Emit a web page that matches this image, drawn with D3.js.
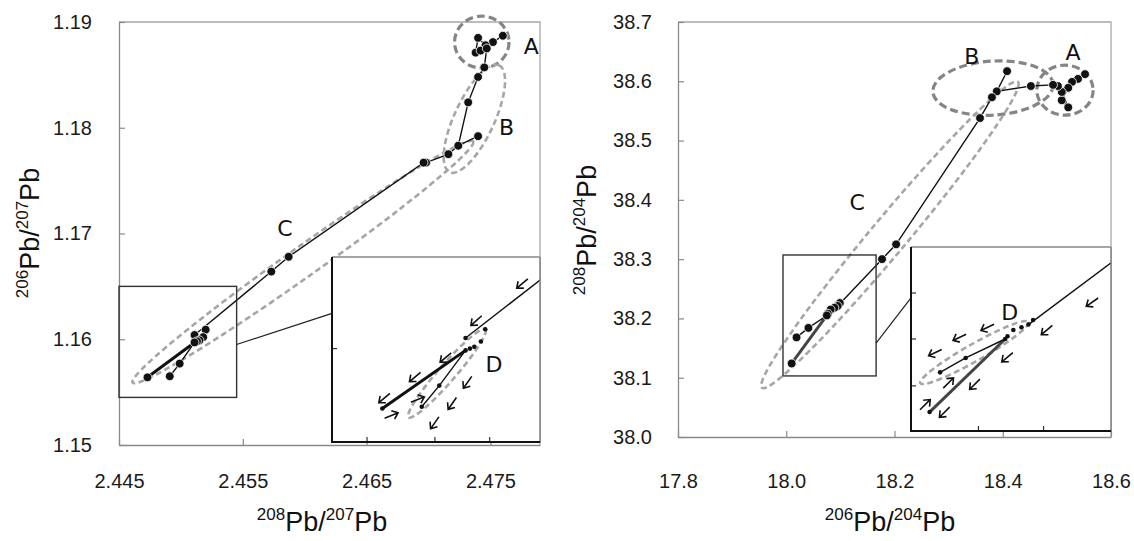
<!DOCTYPE html>
<html>
<head>
<meta charset="utf-8">
<script src="https://cdn.jsdelivr.net/npm/d3@7"></script>
<style>
  html, body { margin: 0; padding: 0; background: #fff; }
  svg { display: block; font-family: "Liberation Sans", Arial, sans-serif; }
</style>
</head>
<body>
<svg id="chart" width="1134" height="541"></svg>
<script>
// ---------- left panel: 206Pb/207Pb vs 208Pb/207Pb ----------
const leftXTicks = [2.445, 2.455, 2.465, 2.475];
const leftYTicks = [1.15, 1.16, 1.17, 1.18, 1.19];

// [208Pb/207Pb, 206Pb/207Pb]
const leftA = [[2.4760, 1.1887], [2.4752, 1.1881], [2.4746, 1.1878], [2.4740, 1.1885],
               [2.4738, 1.1871], [2.4742, 1.1873], [2.4747, 1.1875]];
const leftB = [[2.4745, 1.1857], [2.4740, 1.1848], [2.4732, 1.1824], [2.4724, 1.1783],
               [2.4716, 1.1775], [2.4698, 1.1767], [2.4696, 1.1767]];
const leftBSpur = [[2.4740, 1.1792], [2.4724, 1.1783]];
const leftC = [[2.4587, 1.1678], [2.4573, 1.1664]];
const leftD = [[2.4520, 1.1609], [2.4511, 1.1604], [2.4518, 1.1602], [2.4515, 1.1599],
               [2.4513, 1.1598], [2.4511, 1.1597], [2.4499, 1.1577], [2.4491, 1.1565],
               [2.4473, 1.1564]];
// zoomed window shown in the inset
const leftZoomX = [2.445, 2.4545];
const leftZoomY = [1.1545, 1.165];
const leftInsetXTicks = [2.4466, 2.4497, 2.4522];
const leftInsetYTicks = [1.1598];
// group outlines: two tips of the long axis
const leftRings = [
  { tips: [[2.4721, 1.1881], [2.4765, 1.1881]], half: 26, dark: true },
  { tips: [[2.4717, 1.1758], [2.4757, 1.1859]], half: 20, dark: false },
  { tips: [[2.4461, 1.1559], [2.4736, 1.1787]], half: 15, dark: false }
];
const leftRingD = [[2.4485, 1.1559], [2.4520, 1.1609]];
const leftArrows = [[2.4537, 1.1635, 140], [2.4516, 1.1614, 138], [2.4502, 1.1593, 140],
                    [2.4488, 1.1582, 140], [2.4474, 1.1570, 140], [2.4477, 1.1560, -22],
                    [2.4489, 1.1569, -22], [2.4512, 1.1579, 125], [2.4505, 1.1567, 125],
                    [2.4497, 1.1556, 125]];

// ---------- right panel: 208Pb/204Pb vs 206Pb/204Pb ----------
const rightXTicks = [17.8, 18.0, 18.2, 18.4, 18.6];
const rightYTicks = [38.0, 38.1, 38.2, 38.3, 38.4, 38.5, 38.6, 38.7];

const rightA = [[18.552, 38.612], [18.539, 38.604], [18.528, 38.599], [18.521, 38.589],
                [18.509, 38.568], [18.521, 38.556], [18.509, 38.582], [18.502, 38.592],
                [18.493, 38.594]];
const rightB = [[18.452, 38.592], [18.389, 38.583], [18.380, 38.573], [18.358, 38.538]];
const rightBSpur = [[18.408, 38.617], [18.389, 38.583]];
const rightC = [[18.203, 38.325], [18.177, 38.300]];
const rightD = [[18.099, 38.226], [18.095, 38.221], [18.089, 38.218], [18.082, 38.215],
                [18.077, 38.208], [18.075, 38.205], [18.041, 38.184], [18.019, 38.168],
                [18.010, 38.124]];
const rightZoomX = [17.994, 18.166];
const rightZoomY = [38.103, 38.307];
const rightInsetXTicks = [18.052, 18.108];
const rightInsetYTicks = [38.153, 38.205, 38.256];
const rightRings = [
  { tips: [[18.463, 38.585], [18.567, 38.585]], half: 25, dark: true },
  { tips: [[18.271, 38.582], [18.493, 38.595]], half: 27, dark: true },
  { tips: [[17.955, 38.083], [18.428, 38.599]], half: 18, dark: false }
];
const rightRingD = [[18.002, 38.156], [18.095, 38.224]];
const rightArrows = [[18.150, 38.246, 145], [18.111, 38.215, 140], [18.077, 38.185, 140],
                     [18.049, 38.155, 135], [18.023, 38.124, 135], [18.060, 38.218, 155],
                     [18.036, 38.207, 155], [18.015, 38.190, 155], [18.026, 38.156, -45],
                     [18.006, 38.132, -45]];

const svg = d3.select('#chart');

function titleText(sel, parts) {
  // parts alternate superscript / normal
  let shift = 0;
  parts.forEach(([txt, sup]) => {
    const want = sup ? -11 : 0;
    sel.append('tspan')
      .attr('font-size', sup ? 17 : 27)
      .attr('dy', want - shift)
      .text(txt);
    shift = want;
  });
}

function ring(g, x, y, tips, half, dark) {
  const ax = x(tips[0][0]), ay = y(tips[0][1]);
  const bx = x(tips[1][0]), by = y(tips[1][1]);
  const cx = (ax + bx) / 2, cy = (ay + by) / 2;
  const ang = Math.atan2(by - ay, bx - ax) * 180 / Math.PI;
  g.append('ellipse')
    .attr('cx', cx).attr('cy', cy)
    .attr('rx', Math.hypot(bx - ax, by - ay) / 2).attr('ry', half)
    .attr('transform', `rotate(${ang},${cx},${cy})`)
    .attr('fill', 'none')
    .attr('stroke', dark ? '#858585' : '#a6a6a6')
    .attr('stroke-width', dark ? 3.2 : 2.6)
    .attr('stroke-dasharray', dark ? '8,4' : '6,3.5');
}

function drawPanel(p) {
  const g = svg.append('g');
  const x = d3.scaleLinear().domain(p.xDomain).range(p.xRange);
  const y = d3.scaleLinear().domain(p.yDomain).range(p.yRange);
  const [x0, x1] = p.xRange, [y0, y1] = p.yRange;

  // frame
  g.append('path')
    .attr('d', `M${x0},${y1}H${x1}V${y0}`)
    .attr('fill', 'none').attr('stroke', '#a8a8a8').attr('stroke-width', 1.3);

  const xAxis = g.append('g').attr('transform', `translate(0,${y0})`)
    .call(d3.axisBottom(x).tickValues(p.xTicks).tickFormat(d3.format(p.xFmt))
      .tickSizeInner(-6).tickSizeOuter(0).tickPadding(p.xPad));
  const yAxis = g.append('g').attr('transform', `translate(${x0},0)`)
    .call(d3.axisLeft(y).tickValues(p.yTicks).tickFormat(d3.format(p.yFmt))
      .tickSizeInner(-6).tickSizeOuter(0).tickPadding(p.yPad));
  [xAxis, yAxis].forEach(a => {
    a.attr('font-family', '"Liberation Sans", Arial, sans-serif').attr('font-size', 20);
    a.select('.domain').attr('stroke', '#8a8a8a').attr('stroke-width', 1.3);
    a.selectAll('.tick line').attr('stroke', '#8a8a8a').attr('stroke-width', 1.2);
    a.selectAll('.tick text').attr('fill', '#1a1a1a');
  });

  // axis titles
  titleText(g.append('text').attr('x', p.xTitlePos[0]).attr('y', p.xTitlePos[1])
    .attr('text-anchor', 'middle').attr('fill', '#111'), p.xTitle);
  titleText(g.append('text')
    .attr('transform', `translate(${p.yTitlePos[0]},${p.yTitlePos[1]}) rotate(-90)`)
    .attr('text-anchor', 'middle').attr('fill', '#111'), p.yTitle);

  // group outlines
  p.rings.forEach(r => ring(g, x, y, r.tips, r.half, r.dark));

  const line = d3.line().x(d => x(d[0])).y(d => y(d[1]));
  const D = p.D;
  const mainPath = [...p.A, ...p.B, ...p.C, D[1]];
  g.append('path').attr('d', line(mainPath))
    .attr('fill', 'none').attr('stroke', '#111').attr('stroke-width', 1.4);
  g.append('path').attr('d', line(p.spur))
    .attr('fill', 'none').attr('stroke', '#111').attr('stroke-width', 1.4);
  g.append('path').attr('d', line([D[8], D[5]]))
    .attr('fill', 'none').attr('stroke', p.thickColor).attr('stroke-width', 3);
  g.append('path').attr('d', line([D[7], D[6], D[5]]))
    .attr('fill', 'none').attr('stroke', '#111').attr('stroke-width', 1.4);

  const pts = [...p.A, ...p.B, p.spur[0], ...p.C, ...D];
  g.selectAll('circle.pt').data(pts).enter().append('circle')
    .attr('class', 'pt')
    .attr('cx', d => x(d[0])).attr('cy', d => y(d[1]))
    .attr('r', 4.4)
    .attr('fill', '#111').attr('stroke', '#fff').attr('stroke-width', 0.8);

  // group letters
  p.letters.forEach(([t, lx, ly]) => {
    g.append('text').attr('x', x(lx)).attr('y', y(ly))
      .attr('text-anchor', 'middle').attr('dominant-baseline', 'central')
      .attr('font-family', '"DejaVu Sans", Verdana, sans-serif')
      .attr('font-size', 22).attr('fill', '#111').text(t);
  });

  // zoom window
  const zx0 = x(p.zoomX[0]), zx1 = x(p.zoomX[1]);
  const zy0 = y(p.zoomY[0]), zy1 = y(p.zoomY[1]);
  g.append('rect').attr('x', zx0).attr('y', zy1)
    .attr('width', zx1 - zx0).attr('height', zy0 - zy1)
    .attr('fill', 'none').attr('stroke', '#333').attr('stroke-width', 1.4);

  // inset
  const ib = p.insetBox; // [left, top, right, bottom]
  const ix = d3.scaleLinear().domain(p.zoomX).range([ib[0], ib[2]]);
  const iy = d3.scaleLinear().domain(p.zoomY).range([ib[3], ib[1]]);

  g.append('line')
    .attr('x1', zx1).attr('y1', y(p.connector[0]))
    .attr('x2', ib[0]).attr('y2', iy(p.connector[1]))
    .attr('stroke', '#222').attr('stroke-width', 1.2);

  g.append('rect').attr('x', ib[0]).attr('y', ib[1])
    .attr('width', ib[2] - ib[0]).attr('height', ib[3] - ib[1])
    .attr('fill', '#fff');

  const clipId = p.id + '-clip';
  g.append('clipPath').attr('id', clipId).append('rect')
    .attr('x', ib[0]).attr('y', ib[1])
    .attr('width', ib[2] - ib[0]).attr('height', ib[3] - ib[1]);
  const ig = g.append('g').attr('clip-path', `url(#${clipId})`);

  ring(ig, ix, iy, p.ringD, 8.5, false);

  const iline = d3.line().x(d => ix(d[0])).y(d => iy(d[1]));
  ig.append('path').attr('d', iline([D[1], ...p.C.slice().reverse()]))
    .attr('fill', 'none').attr('stroke', '#111').attr('stroke-width', 1.4);
  ig.append('path').attr('d', iline([D[8], D[5]]))
    .attr('fill', 'none').attr('stroke', p.thickColor).attr('stroke-width', 3);
  ig.append('path').attr('d', iline([D[7], D[6], D[5]]))
    .attr('fill', 'none').attr('stroke', '#111').attr('stroke-width', 1.4);
  ig.selectAll('circle').data(D).enter().append('circle')
    .attr('cx', d => ix(d[0])).attr('cy', d => iy(d[1]))
    .attr('r', 2.3).attr('fill', '#111');

  ig.selectAll('path.arrow').data(p.arrows).enter().append('path')
    .attr('class', 'arrow')
    .attr('d', 'M-7,0H7M2,-4.5L7.5,0L2,4.5')
    .attr('transform', d => `translate(${ix(d[0])},${iy(d[1])}) rotate(${d[2]})`)
    .attr('fill', 'none').attr('stroke', '#111').attr('stroke-width', 1.6);

  ig.append('text').attr('x', ix(p.letterD[0])).attr('y', iy(p.letterD[1]))
    .attr('text-anchor', 'middle').attr('dominant-baseline', 'central')
    .attr('font-family', '"DejaVu Sans", Verdana, sans-serif')
    .attr('font-size', 22).attr('fill', '#111').text('D');

  // inset ticks
  ig.selectAll('line.itx').data(p.insetXTicks).enter().append('line')
    .attr('x1', d => ix(d)).attr('x2', d => ix(d))
    .attr('y1', ib[3]).attr('y2', ib[3] - 5)
    .attr('stroke', '#333').attr('stroke-width', 1.2);
  ig.selectAll('line.ity').data(p.insetYTicks).enter().append('line')
    .attr('y1', d => iy(d)).attr('y2', d => iy(d))
    .attr('x1', ib[0]).attr('x2', ib[0] + 5)
    .attr('stroke', '#333').attr('stroke-width', 1.2);

  // inset border: dark left/bottom, grey top/right
  g.append('path').attr('d', `M${ib[0]},${ib[3]}H${ib[2]}V${ib[1]}`)
    .attr('fill', 'none').attr('stroke', '#777').attr('stroke-width', 1.4);
  g.append('path').attr('d', `M${ib[2]},${ib[1]}H${ib[0]}`)
    .attr('fill', 'none').attr('stroke', '#888').attr('stroke-width', 1.4);
  g.append('path').attr('d', `M${ib[0]},${ib[1]}V${ib[3]}H${ib[2]}`)
    .attr('fill', 'none').attr('stroke', '#111').attr('stroke-width', 2);
}

drawPanel({
  id: 'left',
  xDomain: [2.445, 2.479], yDomain: [1.15, 1.19],
  xRange: [119, 540], yRange: [445, 22],
  xTicks: leftXTicks, yTicks: leftYTicks, xFmt: '.3f', yFmt: '.2f',
  xPad: 29, yPad: 27,
  xTitle: [['208', true], ['Pb/', false], ['207', true], ['Pb', false]],
  yTitle: [['206', true], ['Pb/', false], ['207', true], ['Pb', false]],
  xTitlePos: [322, 531], yTitlePos: [39, 233],
  A: leftA, B: leftB, spur: leftBSpur, C: leftC, D: leftD,
  rings: leftRings, ringD: leftRingD, arrows: leftArrows,
  thickColor: '#111',
  letters: [['A', 2.4783, 1.1877], ['B', 2.4763, 1.1800], ['C', 2.4584, 1.1705]],
  letterD: [2.4524, 1.1589],
  zoomX: leftZoomX, zoomY: leftZoomY,
  connector: [1.1595, 1.1618],
  insetBox: [332, 257, 540, 442],
  insetXTicks: leftInsetXTicks, insetYTicks: leftInsetYTicks
});

drawPanel({
  id: 'right',
  xDomain: [17.8, 18.6], yDomain: [38.0, 38.7],
  xRange: [678, 1111], yRange: [437, 22],
  xTicks: rightXTicks, yTicks: rightYTicks, xFmt: '.1f', yFmt: '.1f',
  xPad: 37, yPad: 26,
  xTitle: [['206', true], ['Pb/', false], ['204', true], ['Pb', false]],
  yTitle: [['208', true], ['Pb/', false], ['204', true], ['Pb', false]],
  xTitlePos: [890, 531], yTitlePos: [596, 230],
  A: rightA, B: rightB, spur: rightBSpur, C: rightC, D: rightD,
  rings: rightRings, ringD: rightRingD, arrows: rightArrows,
  thickColor: '#444',
  letters: [['A', 18.53, 38.649], ['B', 18.343, 38.641], ['C', 18.131, 38.395]],
  letterD: [18.079, 38.234],
  zoomX: rightZoomX, zoomY: rightZoomY,
  connector: [38.1585, 38.2505],
  insetBox: [911, 247, 1111, 431],
  insetXTicks: rightInsetXTicks, insetYTicks: rightInsetYTicks
});
</script>
</body>
</html>
